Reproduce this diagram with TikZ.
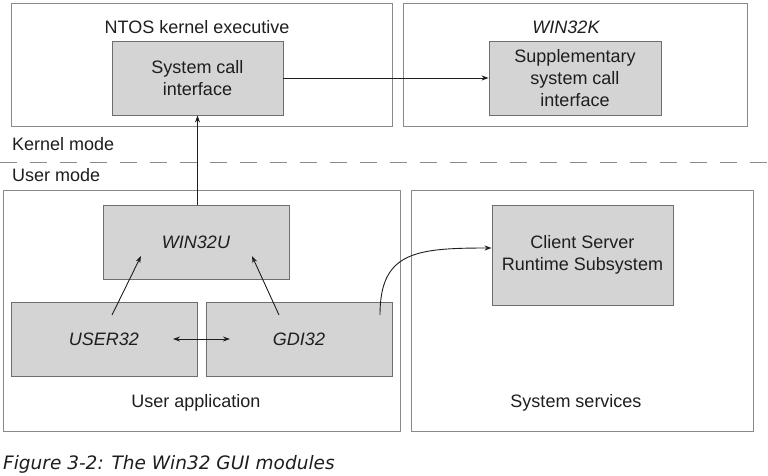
\documentclass[tikz,border=0pt]{standalone}
\usepackage{fontspec}
\setmainfont{Liberation Sans}
\newfontfamily\capfont{DejaVu Sans}
\usetikzlibrary{arrows.meta}
\definecolor{boxgray}{HTML}{D4D4D4}
\definecolor{framegray}{HTML}{8A8A8A}
\definecolor{inkc}{HTML}{1E1E1E}
\tikzset{
  outerbox/.style={draw=framegray, line width=0.9pt, rectangle, inner sep=0pt},
  graybox/.style={draw=framegray!80!black, fill=boxgray, line width=0.9pt, rectangle, inner sep=0pt, align=center, text=inkc, font=\fontsize{18}{22}\selectfont},
  lbl/.style={text=inkc, font=\fontsize{18}{22}\selectfont, inner sep=0pt},
  conn/.style={draw=inkc, line width=0.9pt, -{Stealth[length=7pt,width=5pt]}},
}
\begin{document}
\begin{tikzpicture}[x=1pt,y=-1pt]
\useasboundingbox (0,0) rectangle (768,475);
% outer boxes
\node[outerbox, minimum width=381pt, minimum height=123pt] (ntos) at (201.5,64.5) {};
\node[outerbox, minimum width=344pt, minimum height=123pt] (win32k) at (575,64.5) {};
\node[outerbox, minimum width=397pt, minimum height=241pt] (userapp) at (201.5,310.5) {};
\node[outerbox, minimum width=342pt, minimum height=241pt] (syssvc) at (582,310.5) {};
% labels of outer boxes
\node[lbl] (ntoslbl) at (197,27) {NTOS kernel executive};
\node[lbl, font=\fontsize{18}{22}\selectfont\itshape] (win32klbl) at (566,27) {WIN32K};
\node[lbl] (userapplbl) at (196,403) {User application};
\node[lbl] (syssvclbl) at (576,403) {System services};
\node[lbl, anchor=west] (kmode) at (12,144) {Kernel mode};
\node[lbl, anchor=west] (umode) at (12,175) {User mode};
% mode separator
\coordinate (sepL) at (0,162);
\coordinate (sepR) at (768,162);
\draw[framegray, line width=0.9pt, dash pattern=on 17pt off 13pt] (sepL) -- (sepR);
% inner boxes
\node[graybox, minimum width=171pt, minimum height=74pt] (sci) at (197.5,78) {System call\\interface};
\node[graybox, minimum width=172pt, minimum height=74pt] (supp) at (575,78) {Supplementary\\system call\\interface};
\node[graybox, minimum width=186pt, minimum height=74pt, font=\fontsize{18}{22}\selectfont\itshape] (win32u) at (196,242) {WIN32U};
\node[graybox, minimum width=186pt, minimum height=74pt, font=\fontsize{18}{22}\selectfont\itshape] (user32) at (104,339) {USER32};
\node[graybox, minimum width=186pt, minimum height=74pt, font=\fontsize{18}{22}\selectfont\itshape] (gdi32) at (299,339) {GDI32};
\node[graybox, minimum width=181pt, minimum height=100pt] (csrss) at (582.5,255) {Client Server\\Runtime Subsystem};
% connectors
\draw[conn] (sci.east) -- (supp.west);
\draw[conn] (win32u.north -| sci.south) -- (sci.south);
\coordinate (u32s) at (112,315);
\coordinate (u32e) at (141,256);
\coordinate (g32s) at (279,315);
\coordinate (g32e) at (252,256);
\draw[conn] (u32s) -- (u32e);
\draw[conn] (g32s) -- (g32e);
\coordinate (dblL) at (173,339);
\coordinate (dblR) at (230,339);
\draw[conn, {Stealth[length=7pt,width=5pt]}-{Stealth[length=7pt,width=5pt]}] (dblL) -- (dblR);
\coordinate (crvs) at (380,315);
\draw[conn] (crvs) .. controls (380,252) and (415,248) .. (csrss.west |- 0,248);
% caption
\node[anchor=west, inner sep=0pt, text=inkc, font=\capfont\itshape\fontsize{18.5}{22}\selectfont] (caption) at (3,464) {Figure 3-2: The Win32 GUI modules};
\end{tikzpicture}
\end{document}
